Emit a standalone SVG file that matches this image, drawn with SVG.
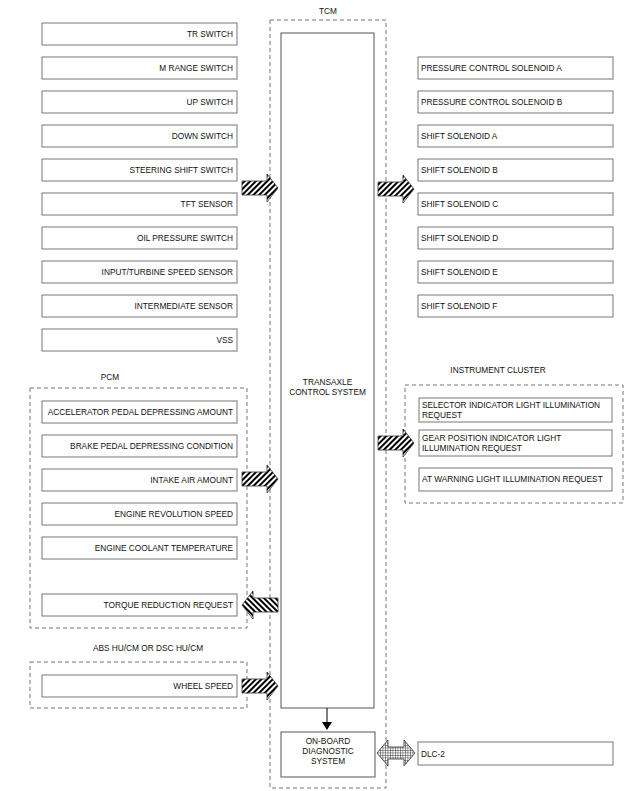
<svg xmlns="http://www.w3.org/2000/svg" width="627" height="791" viewBox="0 0 627 791">
<style>
text{font-family:"Liberation Sans",Arial,sans-serif;font-size:8.3px;fill:#111}
.b{fill:#fff;stroke:#777;stroke-width:1}
.main{fill:#fff;stroke:#555;stroke-width:1}
.d{fill:none;stroke:#777;stroke-width:1;stroke-dasharray:4,3}
.r{text-anchor:end}
.m{text-anchor:middle}
.ha{fill:url(#hatch);stroke:#333;stroke-width:0.8}
.xa{fill:url(#cross);stroke:#333;stroke-width:0.8}
</style>
<defs>
<pattern id="hatch" patternUnits="userSpaceOnUse" width="4" height="4" patternTransform="rotate(45)">
<rect width="4" height="4" fill="#fff"/>
<rect width="2" height="4" fill="#000"/>
</pattern>
<pattern id="cross" patternUnits="userSpaceOnUse" width="2.5" height="2.5">
<rect width="2.5" height="2.5" fill="#fff"/>
<path d="M0 0H2.5M0 0V2.5" stroke="#222" stroke-width="0.9"/>
</pattern>
<path id="ar" d="M0 -7 H25 V-14 L36 0 L25 14 V7 H0 Z"/>
</defs>

<g id="tcm">
<rect class="d" x="270" y="20" width="116" height="768"/>
<text class="m" x="328" y="14">TCM</text>
</g>
<g id="transaxle">
<rect class="main" x="281" y="33" width="93" height="675"/>
<text class="m" x="327.5" y="385">TRANSAXLE</text>
<text class="m" x="327.5" y="395">CONTROL SYSTEM</text>
</g>
<g id="obd">
<rect class="main" x="281" y="732" width="94" height="45"/>
<text class="m" x="328" y="744">ON-BOARD</text>
<text class="m" x="328" y="754">DIAGNOSTIC</text>
<text class="m" x="328" y="764">SYSTEM</text>
</g>

<g id="inputs">
<rect class="b" x="42" y="23" width="195" height="22"/><text class="r" x="233" y="37">TR SWITCH</text>
<rect class="b" x="42" y="57" width="195" height="22"/><text class="r" x="233" y="71">M RANGE SWITCH</text>
<rect class="b" x="42" y="91" width="195" height="22"/><text class="r" x="233" y="105">UP SWITCH</text>
<rect class="b" x="42" y="125" width="195" height="22"/><text class="r" x="233" y="139">DOWN SWITCH</text>
<rect class="b" x="42" y="159" width="195" height="22"/><text class="r" x="233" y="173">STEERING SHIFT SWITCH</text>
<rect class="b" x="42" y="193" width="195" height="22"/><text class="r" x="233" y="207">TFT SENSOR</text>
<rect class="b" x="42" y="227" width="195" height="22"/><text class="r" x="233" y="241">OIL PRESSURE SWITCH</text>
<rect class="b" x="42" y="261" width="195" height="22"/><text class="r" x="233" y="275">INPUT/TURBINE SPEED SENSOR</text>
<rect class="b" x="42" y="295" width="195" height="22"/><text class="r" x="233" y="309">INTERMEDIATE SENSOR</text>
<rect class="b" x="42" y="329" width="195" height="22"/><text class="r" x="233" y="343">VSS</text>
</g>

<g id="pcm">
<rect class="d" x="30" y="388" width="217" height="240"/>
<text class="m" x="110" y="380">PCM</text>
<rect class="b" x="42" y="401" width="195" height="22"/><text class="r" x="233" y="415">ACCELERATOR PEDAL DEPRESSING AMOUNT</text>
<rect class="b" x="42" y="435" width="195" height="22"/><text class="r" x="233" y="449">BRAKE PEDAL DEPRESSING CONDITION</text>
<rect class="b" x="42" y="469" width="195" height="22"/><text class="r" x="233" y="483">INTAKE AIR AMOUNT</text>
<rect class="b" x="42" y="503" width="195" height="22"/><text class="r" x="233" y="517">ENGINE REVOLUTION SPEED</text>
<rect class="b" x="42" y="537" width="195" height="22"/><text class="r" x="233" y="551">ENGINE COOLANT TEMPERATURE</text>
<rect class="b" x="42" y="594" width="195" height="22"/><text class="r" x="233" y="608">TORQUE REDUCTION REQUEST</text>
</g>

<g id="abs">
<rect class="d" x="30" y="662" width="217" height="46"/>
<text class="m" x="148" y="651">ABS HU/CM OR DSC HU/CM</text>
<rect class="b" x="42" y="675" width="195" height="22"/><text class="r" x="233" y="689">WHEEL SPEED</text>
</g>

<g id="outputs">
<rect class="b" x="418" y="57" width="195" height="22"/><text x="421" y="71">PRESSURE CONTROL SOLENOID A</text>
<rect class="b" x="418" y="91" width="195" height="22"/><text x="421" y="105">PRESSURE CONTROL SOLENOID B</text>
<rect class="b" x="418" y="125" width="195" height="22"/><text x="421" y="139">SHIFT SOLENOID A</text>
<rect class="b" x="418" y="159" width="195" height="22"/><text x="421" y="173">SHIFT SOLENOID B</text>
<rect class="b" x="418" y="193" width="195" height="22"/><text x="421" y="207">SHIFT SOLENOID C</text>
<rect class="b" x="418" y="227" width="195" height="22"/><text x="421" y="241">SHIFT SOLENOID D</text>
<rect class="b" x="418" y="261" width="195" height="22"/><text x="421" y="275">SHIFT SOLENOID E</text>
<rect class="b" x="418" y="295" width="195" height="22"/><text x="421" y="309">SHIFT SOLENOID F</text>
</g>

<g id="instrument">
<rect class="d" x="405" y="385" width="218" height="118"/>
<text class="m" x="498" y="373">INSTRUMENT CLUSTER</text>
<rect class="b" x="419" y="398" width="193" height="24"/><text x="422" y="408">SELECTOR INDICATOR LIGHT ILLUMINATION</text><text x="422" y="418">REQUEST</text>
<rect class="b" x="419" y="430" width="193" height="26"/><text x="422" y="441">GEAR POSITION INDICATOR LIGHT</text><text x="422" y="451">ILLUMINATION REQUEST</text>
<rect class="b" x="419" y="468" width="193" height="23"/><text x="422" y="482">AT WARNING LIGHT ILLUMINATION REQUEST</text>
</g>

<g id="dlc">
<rect class="b" x="418" y="742" width="195" height="23"/><text x="421" y="757">DLC-2</text>
</g>

<g id="connectors">
<use href="#ar" class="ha" transform="translate(242,188)"/>
<use href="#ar" class="ha" transform="translate(378,189)"/>
<use href="#ar" class="ha" transform="translate(242,479)"/>
<use href="#ar" class="ha" transform="translate(378,443)"/>
<use href="#ar" class="ha" transform="translate(278,605) scale(-1,1)"/>
<use href="#ar" class="ha" transform="translate(242,686)"/>
<path class="xa" d="M377 753 L388 740 V747 H404 V740 L415 753 L404 766 V759 H388 V766 Z"/>
<line x1="327" y1="708" x2="327" y2="723" stroke="#000" stroke-width="1"/>
<path d="M322 722 H332 L327 730 Z" fill="#000"/>
</g>
</svg>
